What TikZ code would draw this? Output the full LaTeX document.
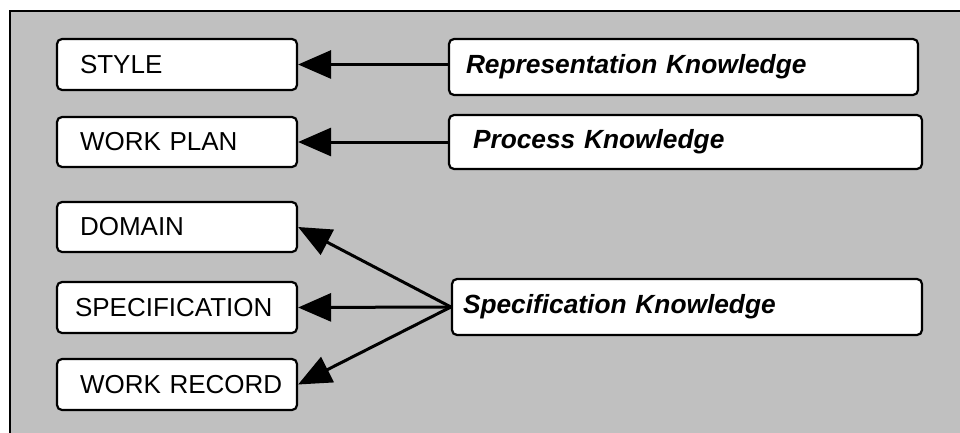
\documentclass[tikz,border=0pt]{standalone}
\usepackage{fontspec}
\setmainfont{Liberation Sans}
\usetikzlibrary{arrows.meta}
\definecolor{bggray}{HTML}{C0C0C0}
\tikzset{
  lbox/.style={draw=black, line width=2.2pt, fill=white, rounded corners=5pt,
    minimum width=240pt, text width=194pt, inner xsep=23pt, align=left,
    font=\fontsize{26}{30}\selectfont},
  rbox/.style={draw=black, line width=2.2pt, fill=white, rounded corners=5pt,
    align=left, font=\fontsize{26.3}{30}\selectfont\bfseries\itshape},
  conn/.style={line width=3pt, {Triangle[length=33pt,width=28pt]}-}
}
\begin{document}
\begin{tikzpicture}[x=1pt,y=-1pt]
\useasboundingbox (0,0) rectangle (960,433);
\fill[bggray] (10,11) rectangle (960,433);
\draw[line width=2.5pt] (10,433) -- (10,11) -- (960,11);
\node[lbox, minimum height=51pt] (style) at (177,64.5) {STYLE};
\node[lbox, minimum height=50pt] (plan) at (177,142) {\raisebox{-3pt}{WORK PLAN}};
\node[lbox, minimum height=50pt] (domain) at (177,227) {DOMAIN};
\node[lbox, minimum height=51pt] (specif) at (177,307.5) {\hspace*{-5pt}SPECIFICATION};
\node[lbox, minimum height=51pt] (record) at (177,384.5) {\raisebox{-2pt}{WORK RECORD}};
\node[rbox, minimum height=56pt, text width=435pt, inner xsep=17pt] (rep) at (683.5,67) {Representation Knowledge};
\node[rbox, minimum height=54pt, text width=425pt, inner xsep=24pt] (proc) at (685.5,142) {Process Knowledge};
\node[rbox, minimum height=56pt, text width=448pt, inner xsep=11pt] (spk) at (687,307) {Specification Knowledge};
\draw[conn] (style.east) -- (style.east -| rep.west);
\draw[conn] (plan.east) -- (plan.east -| proc.west);
\draw[conn] (domain.east) -- (spk.west);
\draw[conn] (specif.east) -- (spk.west);
\draw[conn] (record.east) -- (spk.west);
\end{tikzpicture}
\end{document}
